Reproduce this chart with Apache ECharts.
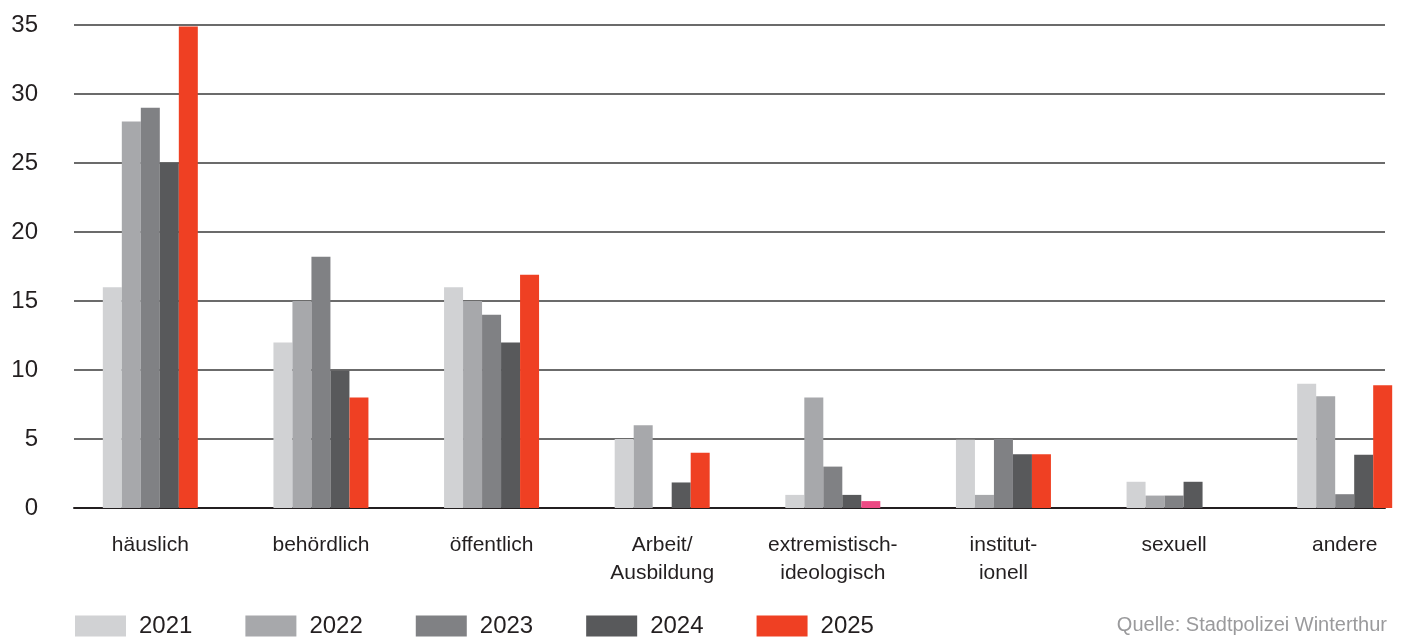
<!DOCTYPE html>
<html>
<head>
<meta charset="utf-8">
<script src="https://cdn.jsdelivr.net/npm/echarts@6/dist/echarts.min.js"></script>
<style>html,body{margin:0;padding:0;background:#fff}#c{width:1406px;height:639px}</style>
</head>
<body>
<div id="c"></div>
<script>
const categories = ['häuslich', 'behördlich', 'öffentlich', 'Arbeit/\nAusbildung', 'extremistisch-\nideologisch', 'institut-\nionell', 'sexuell', 'andere'];
const years = ['2021', '2022', '2023', '2024', '2025'];
const v2021 = [16, 12, 16, 5, 0.95, 4.95, 1.9, 9];
const v2022 = [28, 15, 15, 6, 8, 0.95, 0.9, 8.1];
const v2023 = [29, 18.2, 14, null, 3, 5, 0.9, 1];
const v2024 = [25, 9.95, 12, 1.85, 0.95, 3.9, 1.9, 3.85];
const v2025 = [34.9, 8, 16.9, 4, 0.5, 3.9, null, 8.9];
const yTicks = [0, 5, 10, 15, 20, 25, 30, 35];
const source = 'Quelle: Stadtpolizei Winterthur';

const colors = ['#d1d2d4', '#a7a8ab', '#808184', '#58595b', '#ef4023'];
const highlightIndex = 4; // extremistisch 2025 bar drawn in pink
const highlightColor = '#ec4a84';
const FONT = '"Liberation Sans", Arial, sans-serif';

const values = [v2021, v2022, v2023, v2024, v2025];
const series = years.map((y, i) => ({
  name: y,
  type: 'bar',
  xAxisIndex: 1,
  yAxisIndex: 1,
  barWidth: 19,
  barGap: '0%',
  itemStyle: { color: colors[i] },
  data: values[i].map((v, j) => (i === 4 && j === highlightIndex) ? { value: v, itemStyle: { color: highlightColor } } : v)
}));

const chart = echarts.init(document.getElementById('c'));
chart.setOption({
  animation: false,
  color: colors,
  grid: [
    { left: 74, width: 1311, top: 25, height: 483, outerBoundsMode: 'none' },
    { left: 65, width: 1365, top: 25, height: 483, outerBoundsMode: 'none' }
  ],
  xAxis: [
    { gridIndex: 0, type: 'value', min: 0, max: 1, show: true,
      axisLine: { show: true, lineStyle: { color: '#231f20', width: 2 } },
      axisTick: { show: false }, axisLabel: { show: false }, splitLine: { show: false } },
    { gridIndex: 1, type: 'category', data: categories,
      axisLine: { show: false }, axisTick: { show: false },
      axisLabel: { interval: 0, margin: 23, fontFamily: FONT, fontSize: 21, lineHeight: 28, color: '#231f20', verticalAlign: 'top' } }
  ],
  yAxis: [
    { gridIndex: 0, type: 'value', min: 0, max: 35, interval: 5,
      axisLine: { show: false }, axisTick: { show: false },
      axisLabel: { margin: 36, fontFamily: FONT, fontSize: 24, color: '#231f20',
        formatter: v => yTicks.includes(v) ? String(v) : '' },
      splitLine: { lineStyle: { color: '#3a3a3a', width: 1.5 } } },
    { gridIndex: 1, type: 'value', min: 0, max: 35, interval: 5, show: false, splitLine: { show: false } }
  ],
  legend: {
    left: 70, top: 609, itemWidth: 51, itemHeight: 21, itemGap: 53,
    icon: 'rect',
    data: years,
    textStyle: { fontFamily: FONT, fontSize: 24, color: '#231f20', padding: [0, 0, 0, 8] }
  },
  graphic: [{
    type: 'text', right: 19, top: 615,
    style: { text: source, fontFamily: FONT, fontSize: 20, fill: '#9a9a9c' }
  }],
  series: series
});
</script>
</body>
</html>
